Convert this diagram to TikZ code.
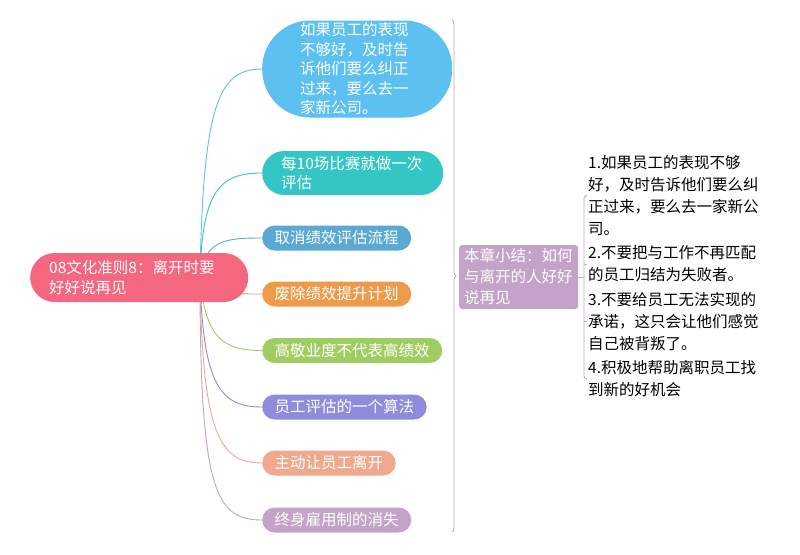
\documentclass[tikz,border=0pt]{standalone}
\usepackage{fontspec}
\setmainfont{Noto Sans CJK SC}
\usetikzlibrary{decorations.pathreplacing,backgrounds}
\definecolor{rootc}{HTML}{F4677F}
\definecolor{ca}{HTML}{5CC0F1}
\definecolor{cb}{HTML}{34C6C4}
\definecolor{cc}{HTML}{5BA8D2}
\definecolor{cd}{HTML}{EE9A4B}
\definecolor{ce}{HTML}{A0CD61}
\definecolor{cf}{HTML}{8F8CDB}
\definecolor{cg}{HTML}{F0A98F}
\definecolor{ch}{HTML}{C4A3C8}
\definecolor{sumc}{HTML}{C4A3C8}
\definecolor{sumline}{HTML}{C9A6CC}
\begin{document}
\begin{tikzpicture}[x=1pt,y=-1pt,
  every node/.style={font=\fontsize{15.5}{19.5}\selectfont},
  topic/.style={anchor=west, text=white, inner ysep=0pt, align=left},
  pill/.style={topic, inner xsep=12.5pt, minimum height=25pt, rounded corners=12.5pt},
  link/.style={line width=0.9pt},
  item/.style={anchor=west, inner xsep=1pt, inner ysep=0pt, text width=178pt, align=left,
    font=\fontsize{15.5}{22}\selectfont, text=black},
  bracket/.style={draw=sumline, line width=0.9pt}
]
\useasboundingbox (0,0) rectangle (800,554);

% root
\node[topic, fill=rootc, minimum height=49pt, inner xsep=19pt, text width=180pt,
  rounded corners=24.5pt] (root) at (30,277.5) {08文化准则8：离开时要\\好好说再见};
\coordinate (hub) at (200,277);

% children
\node[topic, fill=ca, minimum width=190pt, minimum height=97pt, inner xsep=38pt,
  text width=114pt, rounded corners=48pt] (c1) at (262,69)
  {如果员工的表现\\不够好，及时告\\诉他们要么纠正\\过来，要么去一\\家新公司。};
\node[topic, fill=cb, minimum height=44pt, inner xsep=19pt, text width=143pt,
  rounded corners=22pt] (c2) at (262,173) {每10场比赛就做一次\\评估};
\node[pill, fill=cc] (c3) at (262,238) {取消绩效评估流程};
\node[pill, fill=cd] (c4) at (262,294) {废除绩效提升计划};
\node[pill, fill=ce] (c5) at (262,350.5) {高敬业度不代表高绩效};
\node[pill, fill=cf] (c6) at (262,407) {员工评估的一个算法};
\node[pill, fill=cg] (c7) at (262,463) {主动让员工离开};
\node[pill, fill=ch] (c8) at (262,520) {终身雇用制的消失};

% summary
\node[topic, fill=sumc, minimum height=64pt, inner xsep=5pt, text width=109pt,
  rounded corners=3pt, font=\fontsize{15.5}{21}\selectfont] (summ) at (459,277)
  {本章小结：如何\\与离开的人好好\\说再见};
\coordinate (bk) at (584,277);

\node[item] (i1) at (587,195.5) {1.如果员工的表现不够\\好，及时告诉他们要么纠\\正过来，要么去一家新公\\司。};
\node[item] (i2) at (587,264) {2.不要把与工作不再匹配\\的员工归结为失败者。};
\node[item] (i3) at (587,321.5) {3.不要给员工无法实现的\\承诺，这只会让他们感觉\\自己被背叛了。};
\node[item] (i4) at (587,379) {4.积极地帮助离职员工找\\到新的好机会};

\begin{scope}[on background layer]
\fill[white] (0,0) rectangle (800,554);
\draw[link, ca] (hub) .. controls (203,100) and (220,69) .. (c1.west);
\draw[link, cb] (hub) .. controls (202,190) and (220,173) .. (c2.west);
\draw[link, cc] (hub) .. controls (205,240) and (225,238) .. (c3.west);
\draw[link, cd] (hub) .. controls (205,294) and (230,294) .. (c4.west);
\draw[link, ce] (hub) .. controls (205,340) and (225,350.5) .. (c5.west);
\draw[link, cf] (hub) .. controls (203,385) and (220,407) .. (c6.west);
\draw[link, cg] (hub) .. controls (202,435) and (220,463) .. (c7.west);
\draw[link, ch] (hub) .. controls (200,490) and (215,520) .. (c8.west);
\end{scope}

% summary brace
\draw[sumline, line width=0.9pt, decorate, decoration={brace, amplitude=4pt}]
  (452,20) -- (452,532);

% right bracket
\draw[bracket] (summ.east) -- (bk);
\draw[bracket, rounded corners=3pt] (i1.west) -| (bk) |- (i4.west);
\draw[bracket] (bk |- i2.west) -- (i2.west);
\draw[bracket] (bk |- i3.west) -- (i3.west);
\end{tikzpicture}
\end{document}
